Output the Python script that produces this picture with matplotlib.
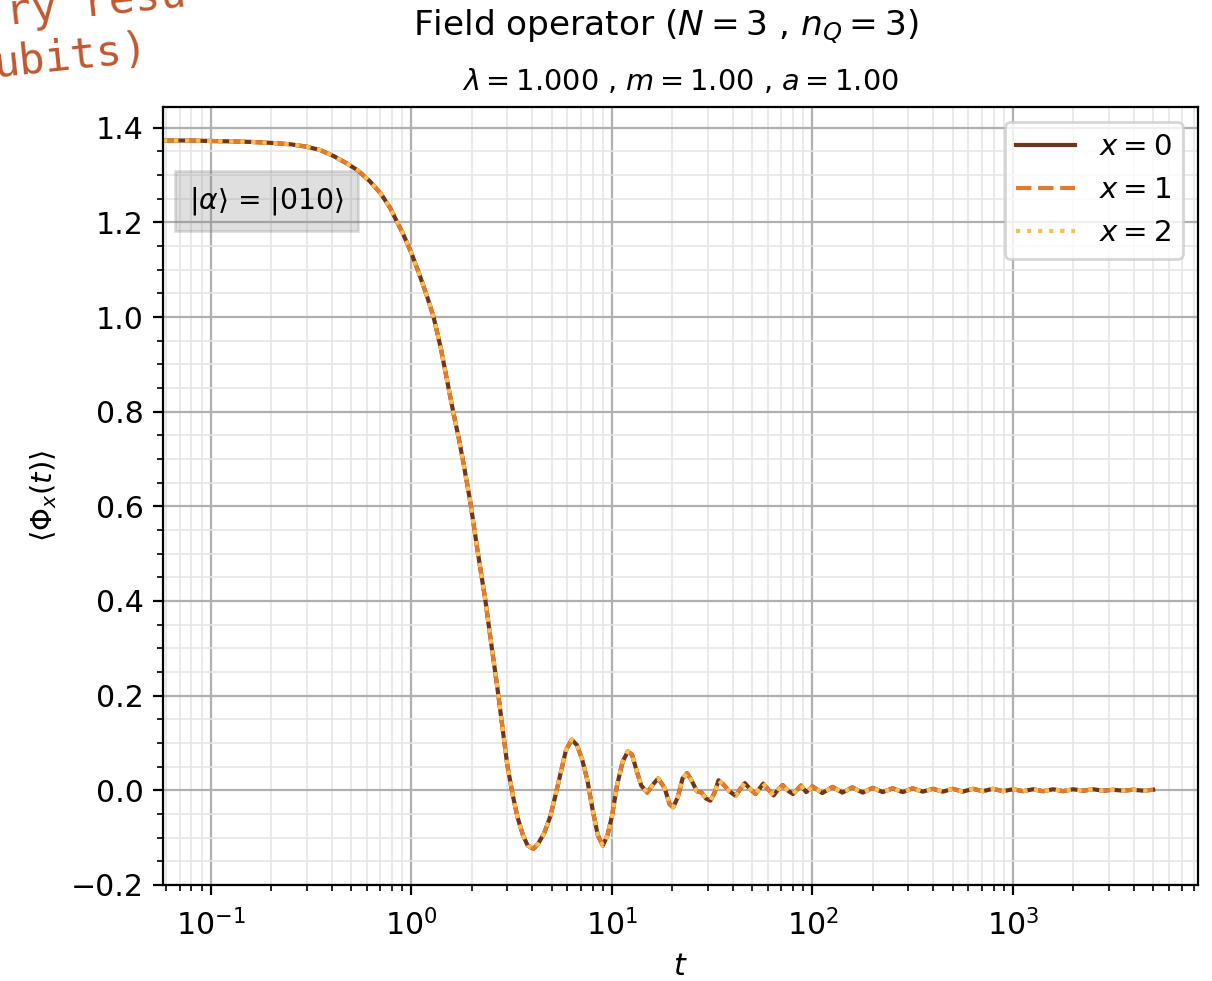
import numpy as np
import matplotlib.pyplot as plt
from matplotlib.ticker import AutoMinorLocator

# time axis (log) and field expectation value
t = [0.0577, 0.08, 0.1, 0.13, 0.16, 0.2, 0.25, 0.3, 0.35, 0.41, 0.47, 0.54, 0.62, 0.70,
     0.78, 0.85, 0.91, 1.0, 1.1, 1.2, 1.29, 1.4, 1.5, 1.62, 1.72, 1.82, 1.97, 2.13, 2.34,
     2.5, 2.68, 2.85, 3.01, 3.2, 3.38, 3.6, 3.8, 4.06, 4.3, 4.6, 4.93, 5.2, 5.54, 5.9,
     6.3, 6.7, 7.1, 7.55, 8.0, 8.5, 9.0, 9.5, 10.0, 10.6, 11.3, 12.0, 12.6, 13.3, 14.0,
     15.0, 16.0, 17.0, 18.3, 19.4, 20.2, 21.3, 22.5, 23.7, 25.0, 26.5, 28.0, 29.5, 31.0,
     32.5, 34.0, 36.0, 38.5, 41.4, 43.5, 46.0, 49.0, 52.0, 56.8, 60.0, 64.0, 67.0, 71.0,
     76.0, 80.0, 87.6, 93.0,
     100, 112, 126, 141, 158, 178, 200, 224, 251, 282, 316, 355, 398, 447, 501, 562,
     631, 708, 794, 891, 1000, 1122, 1259, 1413, 1585, 1778, 1995, 2239, 2512, 2818,
     3162, 3548, 3981, 4467, 5000]
phi = [1.373, 1.373, 1.372, 1.371, 1.370, 1.368, 1.365, 1.360, 1.353, 1.340, 1.326, 1.310,
       1.287, 1.262, 1.232, 1.200, 1.175, 1.135, 1.088, 1.042, 1.000, 0.935, 0.870, 0.797,
       0.745, 0.690, 0.607, 0.510, 0.400, 0.31, 0.218, 0.13, 0.052, -0.01, -0.057, -0.095,
       -0.117, -0.124, -0.112, -0.09, -0.055, -0.015, 0.035, 0.085, 0.107, 0.095, 0.065,
       0.02, -0.04, -0.095, -0.117, -0.095, -0.055, 0.01, 0.06, 0.082, 0.075, 0.04, 0.01,
       -0.005, 0.012, 0.025, 0.005, -0.03, -0.036, -0.015, 0.025, 0.036, 0.02, -0.002,
       -0.005, -0.018, -0.022, -0.005, 0.021, 0.012, -0.002, -0.012, 0.002, 0.015, 0.002,
       -0.008, 0.014, 0.002, -0.011, 0.0, 0.011, -0.002, -0.008, 0.010, -0.004,
       0.008, -0.006, 0.007, -0.005, 0.006, -0.005, 0.005, -0.004, 0.004, -0.004, 0.004,
       -0.003, 0.003, -0.003, 0.003, -0.003, 0.003, -0.002, 0.003, -0.002, 0.002, -0.002,
       0.002, -0.002, 0.002, -0.002, 0.002, -0.001, 0.002, -0.001, 0.001, -0.001, 0.001,
       -0.001, 0.001]
sites = [0, 1, 2]
phi_sites = [phi, phi, phi]          # the three sites overlap exactly
colors = ['#6e3520', '#e07b30', '#fbbf4f']
styles = ['-', '--', ':']

fig = plt.figure(figsize=(6.06, 4.905), dpi=200)
ax = fig.add_subplot(111)
fig.subplots_adjust(left=0.1345, right=0.9885, top=0.891, bottom=0.098)

for x, y, c, ls in zip(sites, phi_sites, colors, styles):
    ax.plot(t, y, ls, color=c, label=r'$x=%d$' % x)

ax.set_xscale('log')
ax.set_xlim(0.0577, 8375)
ax.set_ylim(-0.2, 1.444)
ax.yaxis.set_minor_locator(AutoMinorLocator())
ax.tick_params(labelsize=10.8)
ax.tick_params(axis='x', which='major', pad=5)
ax.grid(which='major', color='#b0b0b0', lw=0.8)
ax.grid(which='minor', color='#e6e6e6', lw=0.6)

ax.set_xlabel(r'$t$', fontsize=10.8, labelpad=4)
ax.set_ylabel(r'$\langle\Phi_x(t)\rangle$', fontsize=10.5)
fig.suptitle(r'Field operator ($N=3$ , $n_Q=3$)', fontsize=12.4, x=0.549, y=0.993)
ax.set_title(r'$\lambda=1.000$ , $m=1.00$ , $a=1.00$', fontsize=10.4)
ax.legend(loc='upper right', fontsize=10.6)
ax.text(0.025, 0.879, r'$|\alpha\rangle$ = $|010\rangle$', transform=ax.transAxes,
        va='center', ha='left', fontsize=10.2,
        bbox=dict(facecolor='gray', edgecolor='gray', alpha=0.25, pad=5))

# stray annotation peeking in at the top-left corner
fig.text(0.006, 0.974, 'ry resu', family='DejaVu Sans Mono', fontsize=15.5,
         color='#c0582e', rotation=6, rotation_mode='anchor', ha='left', va='baseline')
fig.text(-0.004, 0.921, 'ubits)', family='DejaVu Sans Mono', fontsize=15.5,
         color='#c0582e', rotation=6, rotation_mode='anchor', ha='left', va='baseline')

fig.savefig('out.png')
